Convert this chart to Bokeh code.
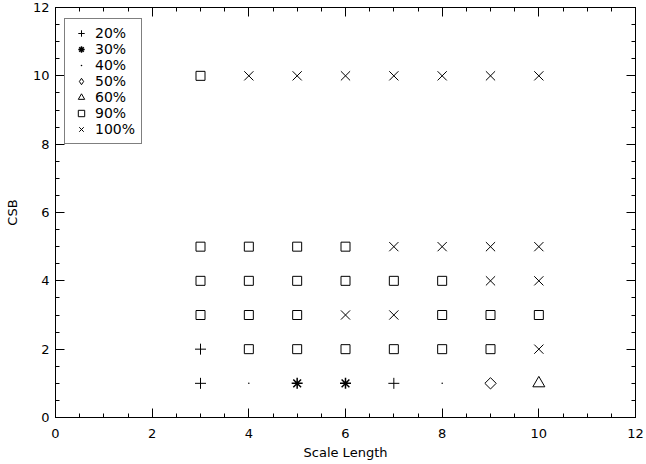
import math
from bokeh.plotting import figure
from bokeh.models import LinearAxis, Legend, LegendItem, FixedTicker, CustomJSTickFormatter
from bokeh.embed import file_html
from bokeh.resources import INLINE

# Data
p20_x = [3, 3, 7]
p20_y = [1, 2, 1]
p30_x = [5, 6]
p30_y = [1, 1]
p40_x = [4, 8]
p40_y = [1, 1]
p50_x = [9]
p50_y = [1]
p60_x = [10]
p60_y = [1]
p90_x = [4, 5, 6, 7, 8, 9,
         3, 4, 5, 8, 9, 10,
         3, 4, 5, 6, 7, 8,
         3, 4, 5, 6,
         3]
p90_y = [2, 2, 2, 2, 2, 2,
         3, 3, 3, 3, 3, 3,
         4, 4, 4, 4, 4, 4,
         5, 5, 5, 5,
         10]
p100_x = [10,
          6, 7,
          9, 10,
          7, 8, 9, 10,
          4, 5, 6, 7, 8, 9, 10]
p100_y = [2,
          3, 3,
          4, 4,
          5, 5, 5, 5,
          10, 10, 10, 10, 10, 10, 10]

labels = ["20%", "30%", "40%", "50%", "60%", "90%", "100%"]
major_ticks = [0, 2, 4, 6, 8, 10, 12]
minor_ticks = [v / 2 for v in range(0, 25)]

FONT = "DejaVu Sans"

p = figure(width=646, height=464, x_range=(0, 12), y_range=(0, 12),
           output_backend="svg", toolbar_location=None,
           min_border_left=55, min_border_right=11, min_border_top=7,
           min_border_bottom=47, background_fill_color="white",
           border_fill_color="white")
p.grid.visible = False
p.outline_line_color = "black"
p.outline_line_width = 1

def style_axis(ax, show_labels=True):
    ax.ticker = FixedTicker(ticks=major_ticks, minor_ticks=minor_ticks)
    ax.major_tick_in = 9
    ax.major_tick_out = 0
    ax.minor_tick_in = 4
    ax.minor_tick_out = 0
    ax.axis_line_color = "black"
    ax.major_tick_line_color = "black"
    ax.minor_tick_line_color = "black"
    ax.major_label_text_font = FONT
    ax.major_label_text_font_size = "13px"
    ax.major_label_text_color = "black"
    ax.axis_label_text_font = FONT
    ax.axis_label_text_font_size = "13px"
    ax.axis_label_text_font_style = "normal"
    ax.axis_label_text_color = "black"
    if not show_labels:
        ax.formatter = CustomJSTickFormatter(code="return ''")
        ax.major_label_text_font_size = "0px"
        ax.major_label_standoff = 0

style_axis(p.xaxis[0])
style_axis(p.yaxis[0])
p.xaxis[0].axis_label = "Scale Length"
p.yaxis[0].axis_label = "CSB"
p.xaxis[0].major_label_standoff = 11
p.xaxis[0].axis_label_standoff = 4
p.yaxis[0].major_label_standoff = 6
p.yaxis[0].axis_label_standoff = 10

top_ax = LinearAxis()
style_axis(top_ax, False)
p.add_layout(top_ax, "above")
right_ax = LinearAxis()
style_axis(right_ax, False)
p.add_layout(right_ax, "right")

common = dict(line_color="black", fill_color=None, line_width=1)
r20 = p.scatter(p20_x, p20_y, marker="cross", size=11, **common)
r30 = p.scatter(p30_x, p30_y, marker="asterisk", size=11, line_width=1.5,
                line_color="black", fill_color=None)
r40 = p.scatter(p40_x, p40_y, marker="dot", size=6, line_color="black",
                fill_color="black")
r50 = p.scatter(p50_x, p50_y, marker="square", size=8, angle=math.pi / 4, **common)
# hidden twin used only for the legend swatch (legend swatches are never rotated)
r50_leg = p.scatter(p50_x, p50_y, marker="diamond", size=12, visible=False, **common)
r60 = p.scatter(p60_x, p60_y, marker="triangle", size=12, **common)
r90 = p.scatter(p90_x, p90_y, marker="square", size=9, **common)
r100 = p.scatter(p100_x, p100_y, marker="x", size=13, **common)

renderers = [r20, r30, r40, r50_leg, r60, r90, r100]
items = [LegendItem(label=l, renderers=[r]) for l, r in zip(labels, renderers)]
legend = Legend(items=items, location=(9, 273))
legend.border_line_color = "black"
legend.border_line_width = 1
legend.background_fill_color = "white"
legend.background_fill_alpha = 1
legend.label_text_font = FONT
legend.label_text_font_size = "14px"
legend.label_text_color = "black"
legend.label_height = 16
legend.glyph_height = 16
legend.glyph_width = 20
legend.spacing = 0
legend.padding = 6
legend.margin = 0
legend.label_standoff = 4
p.add_layout(legend, "center")

open("out.html", "w").write(file_html(p, INLINE))
